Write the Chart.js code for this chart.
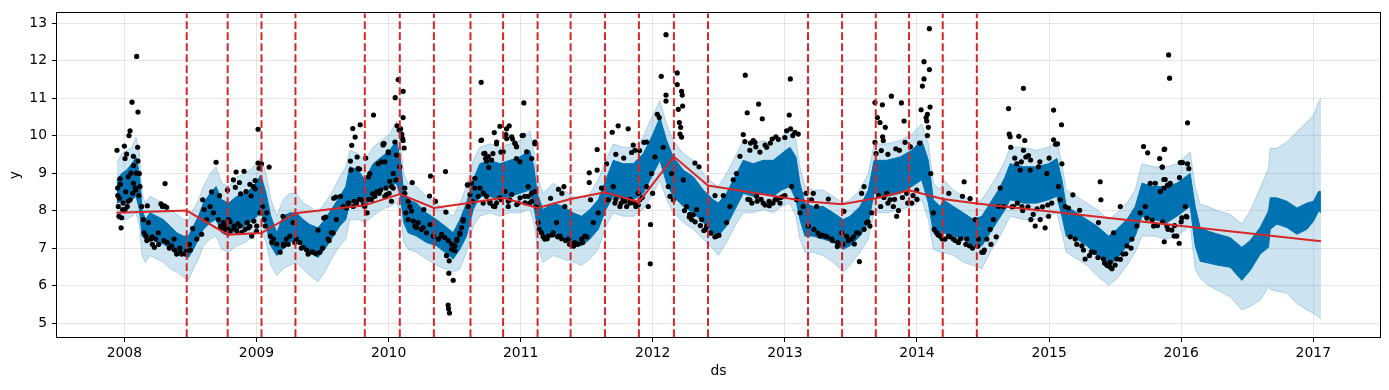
<!DOCTYPE html>
<html>
<head>
<meta charset="utf-8">
<script src="https://cdn.jsdelivr.net/npm/chart.js@4.4.1/dist/chart.umd.min.js"></script>
<style>
  html, body { margin: 0; padding: 0; background: #fff; }
  canvas { display: block; }
</style>
</head>
<body>
<canvas id="forecastChart" width="1389" height="390"></canvas>
<script>
// observed history: [decimal year, y]
const observed = [
  [2007.944, 9.61], [2007.967, 8.85], [2007.975, 7.54], [2007.949, 8.60], [2007.954, 8.11], [2007.959, 7.85],
  [2007.962, 8.33], [2007.979, 7.81], [2007.987, 8.03], [2008.000, 9.72], [2008.005, 9.39], [2008.005, 8.03],
  [2008.017, 9.51], [2008.022, 8.11], [2008.030, 8.25], [2008.035, 10.00], [2008.043, 10.13], [2008.043, 8.29],
  [2008.058, 10.89], [2008.063, 8.46], [2008.068, 9.45], [2008.068, 8.73], [2008.081, 8.60], [2008.086, 8.55],
  [2008.093, 12.11], [2008.101, 9.69], [2008.103, 10.63], [2008.103, 9.32], [2008.113, 8.99], [2008.118, 8.64],
  [2008.131, 8.11], [2008.144, 7.76], [2008.149, 7.41], [2008.164, 7.32], [2008.174, 8.13], [2008.182, 7.68],
  [2008.199, 7.24], [2008.212, 7.10], [2008.227, 7.02], [2008.237, 7.24], [2008.257, 7.41], [2008.277, 8.18],
  [2008.288, 8.11], [2008.303, 8.13], [2008.308, 8.72], [2008.320, 8.09], [2008.325, 7.15], [2008.358, 7.06],
  [2008.376, 7.24], [2008.396, 6.84], [2008.421, 6.89], [2008.434, 6.84], [2008.472, 6.93], [2008.492, 7.10],
  [2008.517, 7.52], [2008.548, 7.24], [2008.585, 7.37], [2008.593, 8.29], [2008.603, 8.03], [2008.623, 7.76],
  [2008.649, 8.11], [2008.674, 7.94], [2008.694, 9.29], [2008.712, 7.76], [2008.729, 7.59], [2008.750, 7.68],
  [2008.762, 7.50], [2008.780, 7.54], [2008.788, 7.76], [2008.800, 7.46], [2008.825, 8.82], [2008.830, 7.59],
  [2008.846, 9.03], [2008.851, 7.46], [2008.871, 8.75], [2008.876, 7.59], [2008.906, 9.05], [2008.914, 7.50],
  [2008.921, 8.51], [2008.939, 7.54], [2008.959, 8.39], [2008.964, 7.32], [2008.977, 8.64], [2008.990, 8.58],
  [2009.002, 7.59], [2009.012, 10.17], [2009.012, 9.27], [2009.020, 9.13], [2009.027, 7.94], [2009.038, 9.25],
  [2009.048, 8.11], [2009.058, 7.76], [2009.066, 7.59], [2009.078, 7.94], [2009.096, 9.16], [2009.104, 7.32],
  [2009.116, 7.15], [2009.129, 7.24], [2009.154, 7.11], [2009.179, 6.89], [2009.205, 7.11],
  [2007.950, 8.40], [2007.970, 8.70], [2007.990, 8.20], [2008.010, 8.50], [2008.030, 8.90], [2008.050, 9.00],
  [2008.070, 9.20], [2008.090, 9.00], [2008.110, 8.40], [2008.170, 7.20], [2008.210, 7.30], [2008.260, 7.10],
  [2008.300, 7.20], [2008.340, 7.00], [2008.380, 6.95], [2008.420, 7.00], [2008.460, 6.85], [2008.500, 6.95],
  [2008.730, 7.55], [2008.760, 7.62], [2008.800, 7.70], [2008.830, 7.52], [2008.860, 7.65], [2008.890, 7.42],
  [2008.930, 7.68], [2008.950, 7.58], [2008.980, 7.72], [2009.000, 7.45], [2008.660, 8.50], [2008.720, 8.40],
  [2008.780, 8.55], [2008.840, 8.62], [2008.880, 8.45], [2008.950, 8.70], [2008.990, 8.80],
  [2009.201, 7.85], [2009.206, 7.06], [2009.226, 7.24], [2009.252, 7.32], [2009.277, 7.68], [2009.302, 7.24],
  [2009.328, 7.15], [2009.353, 7.02], [2009.391, 6.84], [2009.429, 6.89], [2009.466, 7.48], [2009.479, 6.89],
  [2009.509, 7.80], [2009.524, 7.83], [2009.542, 7.24], [2009.567, 7.41], [2009.585, 8.33], [2009.600, 8.36],
  [2009.605, 7.76], [2009.636, 8.38], [2009.656, 8.11], [2009.681, 8.07], [2009.694, 8.20], [2009.711, 9.32],
  [2009.716, 9.08], [2009.721, 9.74], [2009.729, 10.19], [2009.732, 8.11], [2009.747, 9.96], [2009.757, 8.20],
  [2009.762, 9.43], [2009.769, 9.12], [2009.780, 9.11], [2009.785, 10.29], [2009.795, 8.29], [2009.820, 8.11],
  [2009.827, 9.40], [2009.838, 7.94], [2009.848, 8.90], [2009.858, 8.99], [2009.870, 8.29], [2009.886, 10.55],
  [2009.896, 8.38], [2009.921, 9.25], [2009.929, 8.46], [2009.946, 9.30], [2009.959, 9.78], [2009.966, 9.79],
  [2009.972, 8.38], [2009.999, 9.54], [2010.004, 8.46], [2010.022, 8.64], [2010.035, 8.99], [2010.050, 11.01],
  [2010.055, 8.82], [2010.065, 10.26], [2010.073, 11.49], [2010.080, 10.15], [2010.085, 9.17], [2010.100, 10.04],
  [2010.110, 11.18], [2010.110, 10.48], [2010.110, 9.87], [2010.118, 9.67], [2010.123, 8.46], [2010.131, 7.94],
  [2010.148, 7.76], [2010.161, 8.11], [2010.179, 8.75], [2010.199, 7.59], [2010.224, 7.68], [2010.249, 7.50],
  [2010.267, 8.03], [2010.287, 7.41], [2010.310, 8.39], [2010.317, 8.92], [2010.338, 7.32], [2010.355, 8.25],
  [2010.376, 7.24], [2010.401, 7.32], [2010.431, 9.04], [2010.434, 7.96], [2010.439, 6.80], [2010.456, 6.33],
  [2010.459, 6.66], [2010.451, 5.48], [2010.454, 5.38], [2010.461, 5.27], [2010.477, 6.97], [2010.489, 6.14],
  [2010.502, 7.06], [2010.519, 7.24], [2010.540, 7.41], [2010.565, 7.76], [2010.598, 8.68], [2010.603, 8.11],
  [2010.628, 8.73], [2010.653, 8.86], [2010.679, 8.38], [2010.699, 9.87], [2010.701, 11.42], [2010.716, 8.20],
  [2010.721, 9.52], [2010.734, 9.39], [2010.742, 9.32], [2010.759, 9.15], [2010.767, 8.20], [2010.790, 9.52],
  [2010.800, 10.08], [2010.805, 8.11], [2010.817, 9.78], [2010.843, 10.25], [2010.850, 9.56], [2010.855, 8.29],
  [2010.888, 10.03], [2010.906, 8.11],
  [2009.240, 7.10], [2009.290, 7.15], [2009.340, 7.00], [2009.380, 6.95], [2009.420, 6.90], [2009.450, 6.85],
  [2009.500, 7.00], [2009.550, 7.20], [2009.580, 7.40], [2009.700, 8.20], [2009.740, 8.25], [2009.780, 8.30],
  [2009.810, 8.15], [2009.850, 8.30], [2009.880, 8.45], [2009.910, 8.50], [2009.940, 8.55], [2009.980, 8.60],
  [2009.959, 9.75], [2009.972, 9.30], [2009.997, 9.57], [2010.010, 8.78], [2010.035, 8.60], [2010.048, 9.83],
  [2010.060, 9.48], [2009.985, 8.43], [2010.022, 8.25], [2010.091, 10.18], [2010.098, 10.01], [2010.106, 9.92],
  [2010.123, 8.60], [2010.149, 8.25], [2010.174, 7.99], [2010.187, 7.72], [2010.212, 7.55], [2010.262, 7.55],
  [2010.313, 7.63], [2010.401, 7.37], [2010.426, 7.28], [2010.452, 7.20], [2010.477, 7.11], [2010.502, 6.93],
  [2010.515, 7.20], [2010.540, 7.37], [2010.553, 7.55], [2010.565, 7.72], [2010.439, 6.80], [2010.596, 8.69],
  [2010.616, 8.43], [2010.636, 8.25], [2010.654, 8.60], [2010.704, 9.88], [2010.729, 9.53], [2010.755, 9.44],
  [2010.780, 9.35], [2010.818, 9.83], [2010.868, 9.57], [2010.894, 9.92], [2010.932, 9.97], [2010.957, 9.79],
  [2010.969, 9.70], [2011.020, 10.01], [2011.045, 9.57], [2011.083, 9.39], [2011.108, 9.83], [2010.692, 8.60],
  [2010.717, 8.47], [2010.742, 8.38], [2010.767, 8.25], [2010.793, 8.12], [2010.818, 8.21], [2010.843, 8.34],
  [2010.881, 8.51], [2010.906, 8.25], [2010.932, 8.43], [2010.970, 8.16], [2010.995, 8.34], [2011.033, 8.21],
  [2011.058, 8.38], [2011.083, 8.25], [2011.108, 8.51],
  [2010.893, 10.18], [2010.913, 10.26], [2010.918, 8.29], [2010.938, 9.91], [2010.956, 9.80], [2010.968, 9.71],
  [2010.968, 9.39], [2010.981, 8.20], [2010.994, 9.30], [2011.011, 10.00], [2011.024, 10.87], [2011.031, 8.38],
  [2011.057, 8.64], [2011.069, 8.20], [2011.082, 8.46], [2011.107, 9.78], [2011.120, 8.11], [2011.132, 7.68],
  [2011.158, 7.41], [2011.183, 7.24], [2011.208, 7.32], [2011.226, 8.33], [2011.246, 7.41], [2011.271, 7.68],
  [2011.286, 8.57], [2011.297, 7.32], [2011.312, 8.46], [2011.327, 8.64], [2011.334, 8.11], [2011.360, 7.24],
  [2011.385, 7.11], [2011.410, 7.15], [2011.435, 7.11], [2011.461, 7.24], [2011.486, 7.32], [2011.519, 9.01],
  [2011.519, 8.75], [2011.529, 8.29], [2011.549, 7.68], [2011.579, 9.63], [2011.579, 9.08], [2011.587, 7.94],
  [2011.612, 8.60], [2011.650, 9.25], [2011.663, 8.29], [2011.693, 10.09], [2011.701, 8.64], [2011.713, 8.20],
  [2011.738, 10.26], [2011.751, 8.11], [2011.776, 8.29], [2011.802, 8.11], [2011.814, 10.18], [2011.827, 8.20],
  [2011.852, 9.75], [2011.865, 9.61], [2011.872, 8.11], [2011.890, 8.46], [2011.903, 8.29], [2011.933, 9.82],
  [2011.953, 9.83], [2011.953, 8.64], [2011.966, 8.11], [2011.981, 6.58], [2011.983, 7.63], [2011.991, 8.99],
  [2011.999, 8.46], [2012.016, 9.43], [2012.034, 10.57], [2012.049, 10.48], [2012.064, 11.58], [2012.079, 9.69],
  [2012.100, 12.69], [2012.100, 11.08], [2012.100, 10.92], [2012.117, 8.64], [2012.130, 8.38], [2012.143, 8.99],
  [2012.155, 8.29], [2012.185, 11.67], [2012.185, 11.36], [2012.193, 10.70], [2012.201, 10.35], [2012.206, 10.04],
  [2012.211, 10.22], [2012.218, 11.18], [2012.218, 9.96], [2012.223, 11.08], [2012.226, 10.79], [2012.231, 8.82],
  [2012.256, 8.11], [2012.276, 7.83], [2012.294, 7.76], [2012.307, 7.89], [2012.319, 9.27], [2012.332, 8.03],
  [2012.350, 9.17], [2012.370, 7.76], [2012.387, 7.47], [2012.408, 7.59], [2012.433, 7.41], [2012.471, 8.40],
  [2012.483, 7.32], [2012.501, 7.34], [2012.534, 8.40], [2012.559, 7.68],
  [2011.140, 7.50], [2011.170, 7.30], [2011.200, 7.25], [2011.240, 7.35], [2011.280, 7.30], [2011.310, 7.25],
  [2011.340, 7.20], [2011.370, 7.10], [2011.400, 7.05], [2011.430, 7.10], [2011.470, 7.15], [2011.500, 7.30],
  [2011.720, 8.30], [2011.760, 8.20], [2011.790, 8.25], [2011.830, 8.30], [2011.860, 8.20], [2011.890, 8.15],
  [2011.920, 8.35], [2011.720, 9.50], [2011.780, 9.40], [2011.840, 9.55], [2011.900, 9.60], [2012.240, 8.00],
  [2012.280, 7.90], [2012.320, 7.70], [2012.360, 7.60], [2012.400, 7.50], [2012.440, 7.40], [2012.470, 7.30],
  [2012.584, 8.11], [2012.609, 8.82], [2012.634, 8.99], [2012.660, 9.45], [2012.685, 10.03], [2012.697, 9.84],
  [2012.700, 11.61], [2012.715, 10.61], [2012.735, 9.61], [2012.735, 8.29], [2012.761, 9.87], [2012.773, 9.82],
  [2012.786, 8.38], [2012.801, 10.84], [2012.811, 9.56], [2012.829, 10.45], [2012.836, 8.20], [2012.862, 9.69],
  [2012.882, 8.13], [2012.904, 9.91], [2012.925, 8.29], [2012.932, 9.97], [2012.963, 8.20], [2012.988, 8.38],
  [2013.013, 10.13], [2013.033, 10.55], [2013.041, 11.51], [2013.043, 10.18], [2013.051, 8.64], [2013.076, 10.09],
  [2013.089, 8.29], [2013.101, 10.04], [2013.114, 7.94], [2013.139, 8.11], [2013.160, 8.46], [2013.177, 7.59],
  [2013.202, 8.29], [2013.215, 8.46], [2013.240, 8.11], [2013.266, 7.32], [2013.303, 7.32], [2013.329, 8.31],
  [2013.354, 7.24], [2013.397, 7.04], [2013.430, 7.41], [2013.447, 7.98], [2013.468, 7.32], [2013.505, 7.24],
  [2013.526, 7.11], [2013.543, 7.41], [2013.564, 6.64], [2013.581, 8.46], [2013.599, 8.64], [2013.619, 7.68],
  [2013.644, 7.59], [2013.657, 7.94], [2013.682, 10.88], [2013.682, 9.82], [2013.690, 9.52], [2013.700, 10.48],
  [2013.720, 10.35], [2013.725, 8.11], [2013.738, 10.82], [2013.740, 9.97], [2013.745, 9.87], [2013.760, 10.22],
  [2013.771, 8.46], [2013.796, 8.29], [2013.806, 11.05], [2013.821, 8.11], [2013.846, 7.85], [2013.867, 9.61],
  [2013.882, 10.87], [2013.902, 10.39], [2013.910, 9.82], [2013.922, 8.46], [2013.960, 8.20], [2013.998, 8.55],
  [2014.031, 10.69], [2014.041, 11.32], [2014.053, 11.97], [2014.053, 11.51], [2014.069, 10.48], [2014.074, 10.39],
  [2014.079, 10.57], [2014.079, 10.00], [2014.086, 10.22], [2014.094, 12.85], [2014.094, 11.76], [2014.099, 10.76],
  [2014.104, 8.99], [2014.124, 7.94], [2014.149, 7.41], [2014.175, 7.32], [2014.212, 7.24], [2014.238, 7.32],
  [2012.720, 8.30], [2012.750, 8.20], [2012.790, 8.25], [2012.820, 8.30], [2012.850, 8.15], [2012.880, 8.25],
  [2012.910, 8.20], [2012.940, 8.30], [2012.970, 8.35], [2013.000, 8.40], [2012.740, 9.80], [2012.780, 9.70],
  [2012.850, 9.75], [2012.890, 9.80], [2012.950, 9.90], [2013.000, 9.95], [2013.060, 10.00], [2013.220, 7.50],
  [2013.250, 7.40], [2013.280, 7.35], [2013.320, 7.30], [2013.360, 7.20], [2013.400, 7.15], [2013.440, 7.10],
  [2013.480, 7.20], [2013.520, 7.30], [2013.560, 7.40], [2013.600, 7.50], [2013.630, 7.70], [2013.710, 8.40],
  [2013.750, 8.35], [2013.780, 8.20], [2013.830, 8.30], [2013.860, 8.00], [2013.890, 8.35], [2013.930, 8.20],
  [2013.970, 8.40], [2014.000, 8.30], [2013.730, 9.60], [2013.780, 9.50], [2013.840, 9.65], [2013.950, 9.70],
  [2014.020, 9.80], [2014.130, 7.50], [2014.160, 7.35], [2014.190, 7.25],
  [2014.241, 8.46], [2014.276, 7.24], [2014.314, 7.15], [2014.344, 8.38], [2014.357, 8.77], [2014.377, 7.24],
  [2014.397, 7.06], [2014.402, 8.32], [2014.440, 7.76], [2014.465, 7.24], [2014.491, 6.89], [2014.503, 6.89],
  [2014.529, 7.24], [2014.554, 7.50], [2014.579, 7.76], [2014.617, 8.11], [2014.630, 8.60], [2014.655, 8.11],
  [2014.693, 10.72], [2014.698, 10.04], [2014.705, 9.97], [2014.710, 9.69], [2014.730, 8.11], [2014.756, 9.25],
  [2014.771, 9.98], [2014.781, 9.08], [2014.794, 8.11], [2014.806, 11.26], [2014.806, 9.61], [2014.816, 9.87],
  [2014.824, 9.43], [2014.844, 9.47], [2014.857, 9.08], [2014.862, 7.76], [2014.895, 7.59], [2014.920, 9.17],
  [2014.933, 7.76], [2014.970, 7.54], [2014.983, 8.99], [2014.996, 7.85], [2015.034, 10.68], [2015.034, 9.89],
  [2015.049, 9.77], [2015.064, 9.78], [2015.071, 8.64], [2015.084, 8.29], [2015.094, 10.29], [2015.097, 9.25],
  [2015.122, 8.11], [2015.147, 8.07], [2015.180, 8.42], [2015.198, 7.24], [2015.231, 8.01], [2015.248, 7.06],
  [2015.273, 6.71], [2015.306, 6.80], [2015.342, 6.89], [2015.374, 7.68], [2015.387, 8.77], [2015.392, 8.29],
  [2015.412, 6.71], [2015.438, 6.54], [2015.463, 6.62], [2015.476, 6.45], [2015.488, 7.41], [2015.513, 6.71],
  [2015.539, 8.11], [2015.559, 6.84], [2015.589, 7.06], [2015.627, 7.24], [2015.665, 7.59], [2015.690, 7.94],
  [2015.715, 9.71], [2015.728, 8.11], [2015.746, 9.54], [2015.766, 8.73], [2015.791, 7.59], [2015.804, 8.73],
  [2015.837, 9.39], [2015.857, 9.16], [2015.869, 8.83], [2015.872, 7.17], [2015.875, 9.64], [2015.905, 12.15],
  [2015.907, 8.68], [2015.912, 11.53],
  [2014.250, 7.30], [2014.290, 7.20], [2014.330, 7.25], [2014.370, 7.10], [2014.420, 7.00], [2014.460, 7.05],
  [2014.510, 6.95], [2014.560, 7.10], [2014.600, 7.30], [2014.720, 8.10], [2014.760, 8.20], [2014.800, 8.00],
  [2014.840, 8.10], [2014.880, 7.90], [2014.910, 8.05], [2014.950, 8.10], [2014.990, 8.15], [2015.020, 8.20],
  [2014.740, 9.40], [2014.790, 9.30], [2014.860, 9.35], [2014.930, 9.30], [2015.000, 9.40], [2015.160, 7.30],
  [2015.210, 7.10], [2015.260, 6.95], [2015.320, 6.90], [2015.370, 6.75], [2015.420, 6.60], [2015.460, 6.50],
  [2015.500, 6.55], [2015.540, 6.70], [2015.580, 6.85], [2015.620, 7.00], [2015.740, 7.80], [2015.780, 7.75],
  [2015.820, 7.60], [2015.860, 7.70], [2015.900, 7.50], [2015.950, 7.60], [2016.000, 7.70],
  [2015.841, 8.51], [2015.856, 9.16], [2015.871, 9.63], [2015.871, 8.60], [2015.879, 8.83], [2015.892, 7.59],
  [2015.897, 8.68], [2015.917, 8.73], [2015.929, 7.48], [2015.947, 7.32], [2015.967, 7.32], [2015.985, 7.13],
  [2015.987, 8.88], [2015.993, 9.28], [2016.005, 7.81], [2016.010, 9.28], [2016.030, 8.11], [2016.038, 7.85],
  [2016.043, 7.83], [2016.048, 10.34], [2016.048, 9.25], [2016.058, 9.12]
];

// model output sampled along the time axis
const fcDates = [
  2007.942, 2007.980, 2008.018, 2008.056, 2008.088, 2008.114, 2008.134, 2008.159,
  2008.194, 2008.245, 2008.295, 2008.346, 2008.396, 2008.447, 2008.485, 2008.523,
  2008.561, 2008.598, 2008.649, 2008.694, 2008.737, 2008.788, 2008.851, 2008.914,
  2008.977, 2009.033, 2009.073, 2009.109, 2009.154, 2009.201, 2009.252, 2009.302,
  2009.353, 2009.403, 2009.466, 2009.517, 2009.567, 2009.631, 2009.676, 2009.706,
  2009.769, 2009.820, 2009.883, 2009.946, 2010.009, 2010.060, 2010.090, 2010.115,
  2010.148, 2010.211, 2010.287, 2010.363, 2010.426, 2010.489, 2010.540, 2010.590,
  2010.641, 2010.691, 2010.767, 2010.843, 2010.918, 2010.994, 2011.069, 2011.100,
  2011.125, 2011.170, 2011.246, 2011.322, 2011.398, 2011.461, 2011.524, 2011.587,
  2011.645, 2011.701, 2011.776, 2011.852, 2011.928, 2011.991, 2012.054, 2012.105,
  2012.155, 2012.231, 2012.307, 2012.382, 2012.458, 2012.496, 2012.558, 2012.622,
  2012.685, 2012.760, 2012.836, 2012.912, 2012.975, 2013.038, 2013.084, 2013.114,
  2013.152, 2013.215, 2013.291, 2013.367, 2013.442, 2013.493, 2013.569, 2013.632,
  2013.675, 2013.771, 2013.872, 2013.960, 2014.036, 2014.086, 2014.124, 2014.175,
  2014.200, 2014.276, 2014.352, 2014.427, 2014.491, 2014.554, 2014.617, 2014.667,
  2014.705, 2014.806, 2014.907, 2014.996, 2015.059, 2015.097, 2015.130, 2015.210,
  2015.286, 2015.362, 2015.450, 2015.513, 2015.589, 2015.652, 2015.703, 2015.791,
  2015.891, 2015.967, 2016.068, 2016.106, 2016.144, 2016.207, 2016.270, 2016.371,
  2016.459, 2016.522, 2016.598, 2016.661, 2016.674, 2016.724, 2016.800, 2016.876,
  2016.952, 2017.002, 2017.040, 2017.058
];
// yhat_upper
const bandUpper = [
  9.25, 9.52, 9.61, 9.69, 9.96, 9.52, 8.46, 8.20,
  8.38, 8.29, 8.20, 8.03, 7.90, 7.76, 7.76, 8.03,
  8.29, 8.64, 8.99, 9.17, 8.73, 8.64, 8.90, 8.99,
  9.17, 9.43, 8.99, 8.29, 7.85, 8.29, 8.46, 8.46,
  8.20, 8.11, 7.94, 8.20, 8.46, 8.90, 9.17, 9.61,
  9.52, 9.34, 9.69, 9.87, 10.04, 10.39, 9.78, 8.99,
  8.73, 8.64, 8.38, 8.20, 8.03, 7.85, 8.20, 8.64,
  9.34, 9.69, 9.78, 9.69, 9.78, 9.87, 10.13, 9.61,
  8.90, 8.46, 8.73, 8.55, 8.38, 8.29, 8.46, 8.82,
  9.34, 9.78, 9.69, 9.69, 9.96, 10.48, 10.92, 10.31,
  9.87, 9.52, 9.34, 8.99, 8.73, 8.64, 8.99, 9.43,
  9.87, 9.78, 9.87, 9.78, 9.96, 10.22, 9.87, 9.17,
  8.64, 8.55, 8.55, 8.38, 8.20, 8.29, 8.55, 8.99,
  9.78, 9.78, 9.87, 10.04, 10.31, 9.78, 8.73, 8.55,
  8.82, 8.55, 8.38, 8.20, 8.29, 8.64, 8.99, 9.34,
  9.69, 9.69, 9.61, 9.69, 9.87, 9.25, 8.55, 8.38,
  8.20, 8.03, 7.76, 7.94, 8.20, 8.55, 9.25, 9.17,
  9.17, 9.25, 9.56, 8.64, 8.17, 8.10, 8.00, 7.90,
  7.64, 7.99, 8.60, 9.13, 9.66, 9.66, 9.83, 10.10,
  10.36, 10.54, 10.90, 11.00
];
// upper edge of the yhat trace
const yhatTop = [
  8.82, 8.99, 9.08, 9.25, 9.43, 8.99, 8.03, 7.76,
  7.94, 7.85, 7.76, 7.59, 7.41, 7.32, 7.32, 7.59,
  7.85, 8.20, 8.46, 8.64, 8.29, 8.20, 8.38, 8.46,
  8.64, 8.95, 8.46, 7.85, 7.41, 7.85, 7.94, 7.94,
  7.76, 7.63, 7.54, 7.76, 8.03, 8.38, 8.64, 9.17,
  9.08, 8.82, 9.25, 9.43, 9.61, 9.87, 9.34, 8.46,
  8.29, 8.20, 7.94, 7.76, 7.59, 7.41, 7.76, 8.20,
  8.82, 9.25, 9.34, 9.25, 9.34, 9.43, 9.61, 9.17,
  8.46, 8.03, 8.20, 8.11, 7.94, 7.85, 8.03, 8.29,
  8.82, 9.34, 9.25, 9.25, 9.52, 9.96, 10.48, 9.87,
  9.43, 9.08, 8.90, 8.55, 8.29, 8.20, 8.46, 8.90,
  9.34, 9.25, 9.34, 9.34, 9.52, 9.69, 9.43, 8.73,
  8.20, 8.11, 8.11, 7.94, 7.76, 7.85, 8.11, 8.55,
  9.34, 9.34, 9.43, 9.61, 9.87, 9.34, 8.29, 8.11,
  8.29, 8.11, 7.94, 7.76, 7.85, 8.20, 8.55, 8.90,
  9.25, 9.17, 9.17, 9.25, 9.39, 8.82, 8.11, 7.94,
  7.76, 7.59, 7.32, 7.50, 7.76, 8.11, 8.73, 8.64,
  8.64, 8.73, 8.99, 8.11, 7.54, 7.45, 7.38, 7.28,
  7.02, 7.20, 7.55, 7.99, 8.34, 8.34, 8.25, 8.07,
  8.20, 8.25, 8.51, 8.50
];
// lower edge of the yhat trace
const yhatBottom = [
  8.20, 8.25, 8.20, 8.29, 8.38, 8.03, 7.32, 7.24,
  7.32, 7.15, 7.11, 6.97, 6.84, 6.80, 6.75, 6.97,
  7.24, 7.50, 7.68, 7.76, 7.41, 7.32, 7.50, 7.59,
  7.76, 7.94, 7.59, 7.06, 6.80, 6.97, 7.15, 7.24,
  7.06, 6.89, 6.75, 6.97, 7.24, 7.59, 7.76, 8.20,
  8.29, 8.11, 8.38, 8.55, 8.64, 8.73, 8.38, 7.68,
  7.41, 7.32, 7.15, 7.06, 6.89, 6.71, 6.97, 7.32,
  8.03, 8.38, 8.38, 8.29, 8.38, 8.46, 8.55, 8.11,
  7.59, 7.24, 7.32, 7.24, 7.15, 7.06, 7.24, 7.50,
  8.03, 8.38, 8.29, 8.29, 8.46, 8.90, 9.34, 8.73,
  8.38, 8.11, 7.94, 7.68, 7.41, 7.32, 7.59, 8.03,
  8.46, 8.38, 8.46, 8.38, 8.55, 8.64, 8.29, 7.76,
  7.32, 7.32, 7.24, 7.15, 6.97, 7.06, 7.32, 7.68,
  8.46, 8.38, 8.46, 8.64, 8.82, 8.20, 7.41, 7.32,
  7.41, 7.32, 7.24, 7.06, 7.06, 7.41, 7.76, 8.03,
  8.29, 8.20, 8.20, 8.29, 8.38, 7.85, 7.32, 7.24,
  7.06, 6.80, 6.54, 6.71, 7.06, 7.32, 7.85, 7.76,
  7.68, 7.85, 8.11, 7.06, 6.65, 6.60, 6.55, 6.49,
  6.14, 6.40, 6.84, 7.02, 7.50, 7.64, 7.55, 7.37,
  7.50, 7.72, 7.99, 7.95
];
// yhat_lower
const bandLower = [
  7.76, 7.76, 7.76, 7.85, 7.94, 7.59, 6.80, 6.62,
  6.80, 6.71, 6.62, 6.45, 6.36, 6.23, 6.14, 6.45,
  6.71, 7.06, 7.24, 7.32, 6.97, 6.89, 7.06, 7.15,
  7.32, 7.50, 7.15, 6.54, 6.27, 6.45, 6.54, 6.62,
  6.45, 6.27, 6.10, 6.36, 6.71, 7.06, 7.24, 7.76,
  7.76, 7.68, 7.85, 8.03, 8.11, 8.20, 7.94, 7.15,
  6.97, 6.89, 6.71, 6.54, 6.45, 6.36, 6.45, 6.89,
  7.59, 7.85, 7.94, 7.85, 7.94, 7.94, 8.03, 7.68,
  7.06, 6.62, 6.80, 6.71, 6.62, 6.54, 6.71, 6.97,
  7.59, 7.94, 7.85, 7.85, 8.03, 8.38, 8.82, 8.29,
  7.94, 7.68, 7.50, 7.24, 6.97, 6.80, 7.15, 7.59,
  7.94, 7.94, 8.03, 7.94, 8.11, 8.20, 7.85, 7.24,
  6.89, 6.89, 6.80, 6.62, 6.36, 6.54, 6.89, 7.24,
  7.94, 7.94, 8.03, 8.11, 8.29, 7.76, 6.97, 6.89,
  6.89, 6.80, 6.62, 6.54, 6.45, 6.89, 7.24, 7.59,
  7.85, 7.76, 7.76, 7.85, 7.94, 7.41, 6.89, 6.71,
  6.54, 6.27, 6.01, 6.18, 6.54, 6.89, 7.32, 7.32,
  7.24, 7.32, 7.59, 6.45, 6.20, 6.00, 5.88, 5.70,
  5.35, 5.44, 5.61, 5.96, 5.90, 5.85, 5.80, 5.52,
  5.35, 5.26, 5.17, 5.10
];

// piecewise-linear trend and the changepoints shown
const trendDates = [2007.940, 2008.472, 2008.782, 2009.038, 2009.295, 2009.820, 2010.085, 2010.343,
  2010.620, 2010.867, 2011.128, 2011.378, 2011.638, 2011.895, 2012.160, 2012.418, 2013.175,
  2013.433, 2013.688, 2013.940, 2014.195, 2014.453, 2017.058];
const trendValues = [7.94, 8.00, 7.36, 7.40, 7.93, 8.14, 8.44, 8.07,
  8.21, 8.34, 8.07, 8.31, 8.49, 8.23, 9.44, 8.67, 8.24,
  8.17, 8.33, 8.54, 8.31, 8.19, 7.18];
const changepoints = [2008.472, 2008.782, 2009.038, 2009.295, 2009.820, 2010.085, 2010.343,
  2010.620, 2010.867, 2011.128, 2011.378, 2011.638, 2011.895, 2012.160, 2012.418, 2013.175,
  2013.433, 2013.688, 2013.940, 2014.195, 2014.453];

const yearTicks = [2008, 2009, 2010, 2011, 2012, 2013, 2014, 2015, 2016, 2017];
const yTicks = [5, 6, 7, 8, 9, 10, 11, 12, 13];

const X_MIN = 2007.49, X_MAX = 2017.505;
const Y_MIN = 4.63, Y_MAX = 13.26;

const BLUE = '#0072B2';
const RED = '#d62728';
const FONT = { family: 'DejaVu Sans', size: 13.9 };

function pairs(xs, ys) {
    return xs.map((x, i) => ({ x: x, y: ys[i] }));
}

const datasets = [];

// changepoint markers
changepoints.forEach(cp => {
    datasets.push({
        data: [{ x: cp, y: Y_MIN }, { x: cp, y: Y_MAX }],
        borderColor: RED,
        borderWidth: 2,
        borderDash: [7.7, 3.3],
        pointRadius: 0,
        fill: false,
        order: 0
    });
});

datasets.push({
    data: pairs(trendDates, trendValues),
    borderColor: RED,
    borderWidth: 2,
    pointRadius: 0,
    fill: false,
    order: 1
});

datasets.push({
    data: observed.map(p => ({ x: p[0], y: p[1] })),
    showLine: false,
    pointRadius: 2.6,
    pointBackgroundColor: '#000',
    pointBorderWidth: 0,
    order: 2
});

// yhat trace (drawn as its weekly envelope)
datasets.push({
    data: pairs(fcDates, yhatTop),
    borderColor: BLUE,
    borderWidth: 1,
    backgroundColor: BLUE,
    pointRadius: 0,
    fill: '+1',
    order: 3
});
datasets.push({
    data: pairs(fcDates, yhatBottom),
    borderColor: BLUE,
    borderWidth: 1,
    pointRadius: 0,
    fill: false,
    order: 4
});

// uncertainty interval
datasets.push({
    data: pairs(fcDates, bandUpper),
    borderColor: 'rgba(0,114,178,0.25)',
    borderWidth: 1,
    backgroundColor: 'rgba(0,114,178,0.2)',
    pointRadius: 0,
    fill: '+1',
    order: 5
});
datasets.push({
    data: pairs(fcDates, bandLower),
    borderColor: 'rgba(0,114,178,0.25)',
    borderWidth: 1,
    pointRadius: 0,
    fill: false,
    order: 6
});

const frame = {
    id: 'frame',
    afterDatasetsDraw(chart) {
        const a = chart.chartArea;
        const ctx = chart.ctx;
        ctx.save();
        ctx.strokeStyle = '#000';
        ctx.lineWidth = 1;
        ctx.strokeRect(Math.round(a.left) - 0.5, Math.round(a.top) - 0.5,
            Math.round(a.right - a.left) + 1, Math.round(a.bottom - a.top) + 1);
        ctx.restore();
    }
};

const ctx = document.getElementById('forecastChart').getContext('2d');
new Chart(ctx, {
    type: 'line',
    data: { datasets: datasets },
    options: {
        responsive: false,
        animation: false,
        devicePixelRatio: 1,
        layout: { padding: { left: 0, top: 10, right: 9, bottom: 0 } },
        elements: { line: { tension: 0 } },
        plugins: {
            legend: { display: false },
            tooltip: { enabled: false }
        },
        scales: {
            x: {
                type: 'linear',
                min: X_MIN,
                max: X_MAX,
                afterBuildTicks: s => { s.ticks = yearTicks.map(v => ({ value: v })); },
                afterFit: s => { s.height = 53; },
                ticks: {
                    color: '#000',
                    font: FONT,
                    padding: 3,
                    maxRotation: 0,
                    autoSkip: false,
                    callback: v => String(v)
                },
                grid: {
                    color: 'rgba(128,128,128,0.2)',
                    lineWidth: 1,
                    tickColor: '#000',
                    tickLength: 5
                },
                border: { display: false },
                title: {
                    display: true,
                    text: 'ds',
                    color: '#000',
                    font: FONT,
                    padding: { top: 0, bottom: 10 }
                }
            },
            y: {
                type: 'linear',
                min: Y_MIN,
                max: Y_MAX,
                afterBuildTicks: s => { s.ticks = yTicks.map(v => ({ value: v })); },
                afterFit: s => { s.width = 57; },
                ticks: {
                    color: '#000',
                    font: FONT,
                    padding: 5,
                    callback: v => String(v)
                },
                grid: {
                    color: 'rgba(128,128,128,0.2)',
                    lineWidth: 1,
                    tickColor: '#000',
                    tickLength: 5
                },
                border: { display: false },
                title: {
                    display: true,
                    text: 'y',
                    color: '#000',
                    font: FONT,
                    padding: { top: 7, bottom: 0 }
                }
            }
        }
    },
    plugins: [frame]
});
</script>
</body>
</html>
